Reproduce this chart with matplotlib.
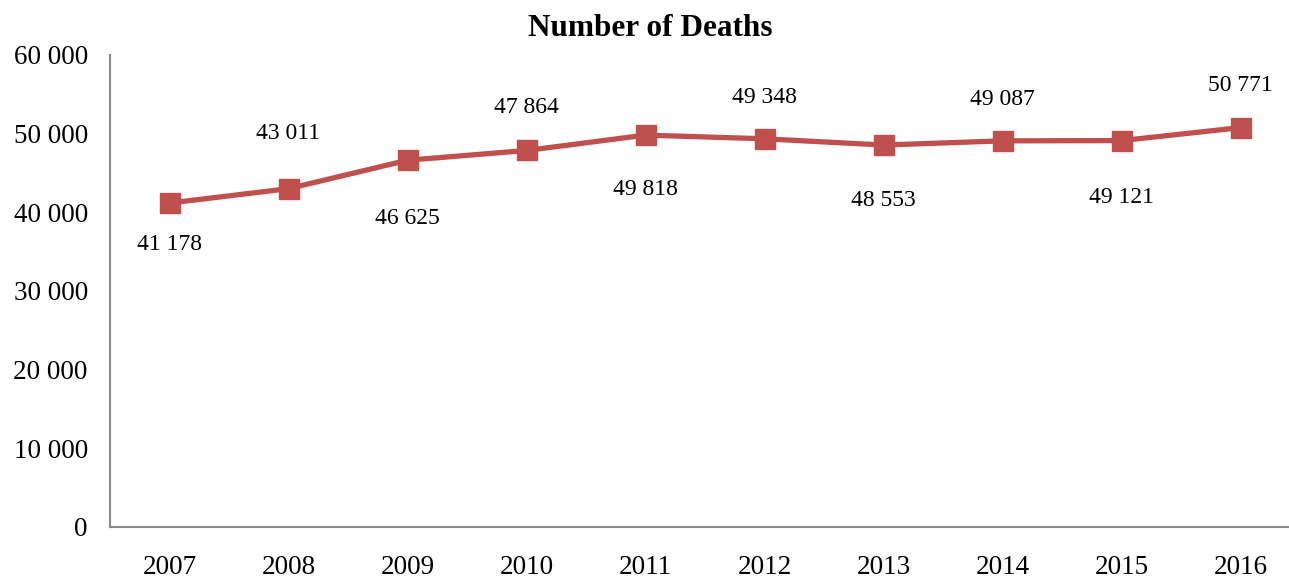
import matplotlib
matplotlib.use('Agg')
import matplotlib.pyplot as plt

years = ['2007', '2008', '2009', '2010', '2011', '2012', '2013', '2014', '2015', '2016']
deaths = [41178, 43011, 46625, 47864, 49818, 49348, 48553, 49087, 49121, 50771]
yticks = [0, 10000, 20000, 30000, 40000, 50000, 60000]

# label offsets in points (above / below the marker)
offs = [-30, 40, -42, 31, -39, 30, -40, 30, -41, 30]

plt.rcParams['font.family'] = ['Liberation Serif', 'DejaVu Serif']

fig = plt.figure(figsize=(12.89, 5.79), dpi=100)
ax = fig.add_axes([110 / 1289, 52 / 579, 1190 / 1289, 472 / 579])

x = range(len(years))
ax.plot(x, deaths, color='#C0504D', lw=3.8, marker='s', ms=14, zorder=3)

for i, v in enumerate(deaths):
    lab = '{:,}'.format(v).replace(',', ' ')
    ax.annotate(lab, (i, v), xytext=(0, offs[i]), textcoords='offset points',
                ha='center', va='center', fontsize=17)

ax.set_xlim(-0.5, len(years) - 0.5)
ax.set_ylim(0, 60000)
ax.set_xticks(list(x))
ax.set_xticklabels(years)
ax.set_yticks(yticks)
ax.set_yticklabels(['{:,}'.format(t).replace(',', ' ') for t in yticks])
ax.tick_params(length=0, labelsize=19.5, pad=16)
ax.tick_params(axis='x', pad=20)

for s in ['top', 'right']:
    ax.spines[s].set_visible(False)
for s in ['left', 'bottom']:
    ax.spines[s].set_color('#898989')
    ax.spines[s].set_linewidth(1.5)

fig.text(650 / 1289, 1 - 29 / 579, 'Number of Deaths', ha='center', va='center',
         fontsize=22.5, fontweight='bold')

fig.savefig('out.png', dpi=100)
